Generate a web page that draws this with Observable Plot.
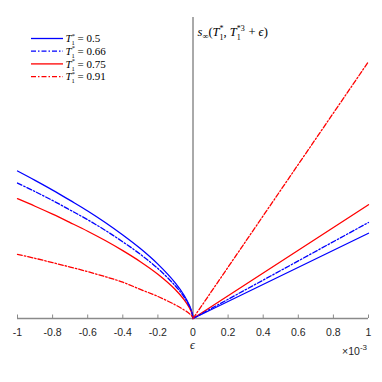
<!DOCTYPE html>
<html>
<head>
<meta charset="utf-8">
<script src="https://cdn.jsdelivr.net/npm/d3@7"></script>
<script src="https://cdn.jsdelivr.net/npm/@observablehq/plot@0.6"></script>
<style>
  html, body { margin: 0; padding: 0; background: white; }
</style>
</head>
<body>
<div id="chart"></div>
<script>
// epsilon values in units of 1e-3
const epsValues = [-1, -0.9, -0.8, -0.7, -0.6, -0.5, -0.4, -0.3, -0.2, -0.1, -0.05, -0.02, -0.005, 0, 1];
const seriesNames = ["0.5", "0.66", "0.75", "0.91"];
const seriesColors = ["#0000ff", "#0000ff", "#ff0000", "#ff0000"];
const seriesDashed = [false, true, false, true];
const s_T05  = [1.47, 1.377, 1.28, 1.177, 1.072, 0.957, 0.832, 0.697, 0.542, 0.353, 0.229, 0.129, 0.054, 0, 0.85];
const s_T066 = [1.35, 1.265, 1.176, 1.081, 0.984, 0.879, 0.764, 0.64, 0.498, 0.324, 0.211, 0.119, 0.05, 0, 0.957];
const s_T075 = [1.194, 1.119, 1.04, 0.956, 0.87, 0.777, 0.676, 0.566, 0.441, 0.287, 0.186, 0.105, 0.044, 0, 1.134];
const s_T091 = [0.64, 0.60, 0.557, 0.513, 0.467, 0.417, 0.362, 0.29, 0.22, 0.135, 0.085, 0.048, 0.02, 0, 2.56];
const xTicks = [-1, -0.8, -0.6, -0.4, -0.2, 0, 0.2, 0.4, 0.6, 0.8, 1];

const allSeries = [s_T05, s_T066, s_T075, s_T091];
const rows = [];
allSeries.forEach((vals, si) => {
  epsValues.forEach((e, i) => {
    if (e <= 0) rows.push({x: e, y: vals[i], series: si, side: "L"});
    if (e >= 0) rows.push({x: e, y: vals[i], series: si, side: "R"});
  });
});

const lineMark = (dashed) => Plot.line(rows.filter(d => seriesDashed[d.series] === dashed), {
  x: "x", y: "y", z: d => d.series + d.side,
  stroke: d => seriesColors[d.series],
  strokeWidth: 1.3,
  strokeDasharray: dashed ? "5,2,1.5,2" : null,
  curve: "catmull-rom"
});

const plot = Plot.plot({
  width: 382,
  height: 382,
  marginTop: 17,
  marginBottom: 64,
  marginLeft: 17,
  marginRight: 14,
  style: {fontFamily: "'Liberation Sans', Arial, sans-serif", fontSize: "10.5px", color: "#262626", background: "white"},
  x: {domain: [-1, 1]},
  y: {domain: [0, 3], axis: null},
  marks: [
    Plot.ruleY([0], {stroke: "#8a8a8a", strokeWidth: 1.4}),
    Plot.axisX({ticks: xTicks, tickSize: -3.5, tickPadding: 13.5, stroke: "#8a8a8a", tickFormat: d => String(+d.toFixed(1)), label: null}),
    Plot.ruleX([0], {stroke: "#555", strokeWidth: 1}),
    lineMark(false),
    lineMark(true)
  ]
});

document.getElementById("chart").appendChild(plot);
const svg = d3.select(plot);
const xs = plot.scale("x");
const serif = "'Liberation Serif', 'DejaVu Serif', serif";

// axis label epsilon
svg.append("text").attr("x", xs.apply(0)).attr("y", 349).style("text-anchor", "middle")
  .style("font-family", serif).style("font-style", "italic").style("font-size", "12px").attr("fill", "#262626").text("ϵ");

// x10^-3
const mult = svg.append("text").attr("x", 367).attr("y", 355).style("text-anchor", "end")
  .style("font-size", "10.5px").attr("fill", "#262626");
mult.append("tspan").text("×10");
mult.append("tspan").attr("dy", -5).style("font-size", "8px").text("-3");

// vertical line label
const lab = svg.append("text").attr("x", xs.apply(0) + 5).attr("y", 36).style("text-anchor", "start")
  .style("font-family", serif).style("font-size", "12.5px").attr("fill", "#000");
lab.append("tspan").style("font-style", "italic").text("s");
lab.append("tspan").attr("dy", 2.5).style("font-size", "8.5px").text("∞");
lab.append("tspan").attr("dy", -2.5).text("(");
lab.append("tspan").style("font-style", "italic").text("T");
lab.append("tspan").attr("dy", -5).style("font-size", "8px").text("*");
lab.append("tspan").attr("dx", -4).attr("dy", 8.5).style("font-size", "8px").text("1");
lab.append("tspan").attr("dy", -3.5).text(", ");
lab.append("tspan").style("font-style", "italic").text("T");
lab.append("tspan").attr("dy", -5).style("font-size", "8px").text("*3");
lab.append("tspan").attr("dx", -8).attr("dy", 8.5).style("font-size", "8px").text("1");
lab.append("tspan").attr("dx", 4.5).attr("dy", -3.5).text(" + ");
lab.append("tspan").style("font-style", "italic").text("ϵ");
lab.append("tspan").text(")");

// legend
const legend = svg.append("g");
seriesNames.forEach((name, i) => {
  const y = 38.5 + i * 12.7;
  legend.append("line").attr("x1", 31).attr("x2", 63).attr("y1", y).attr("y2", y)
    .attr("stroke", seriesColors[i]).attr("stroke-width", 1.3)
    .attr("stroke-dasharray", seriesDashed[i] ? "5,2,1.5,2" : null);
  const t = legend.append("text").attr("x", 65.5).attr("y", y + 3.8).style("text-anchor", "start")
    .style("font-family", serif).style("font-size", "11px").attr("fill", "#000");
  t.append("tspan").style("font-style", "italic").text("T");
  t.append("tspan").attr("dy", -4.8).style("font-size", "6.5px").text("*");
  t.append("tspan").attr("dx", -3.3).attr("dy", 7.6).style("font-size", "6.5px").text("1");
  t.append("tspan").attr("dy", -2.8).text(" = " + name);
});
</script>
</body>
</html>
